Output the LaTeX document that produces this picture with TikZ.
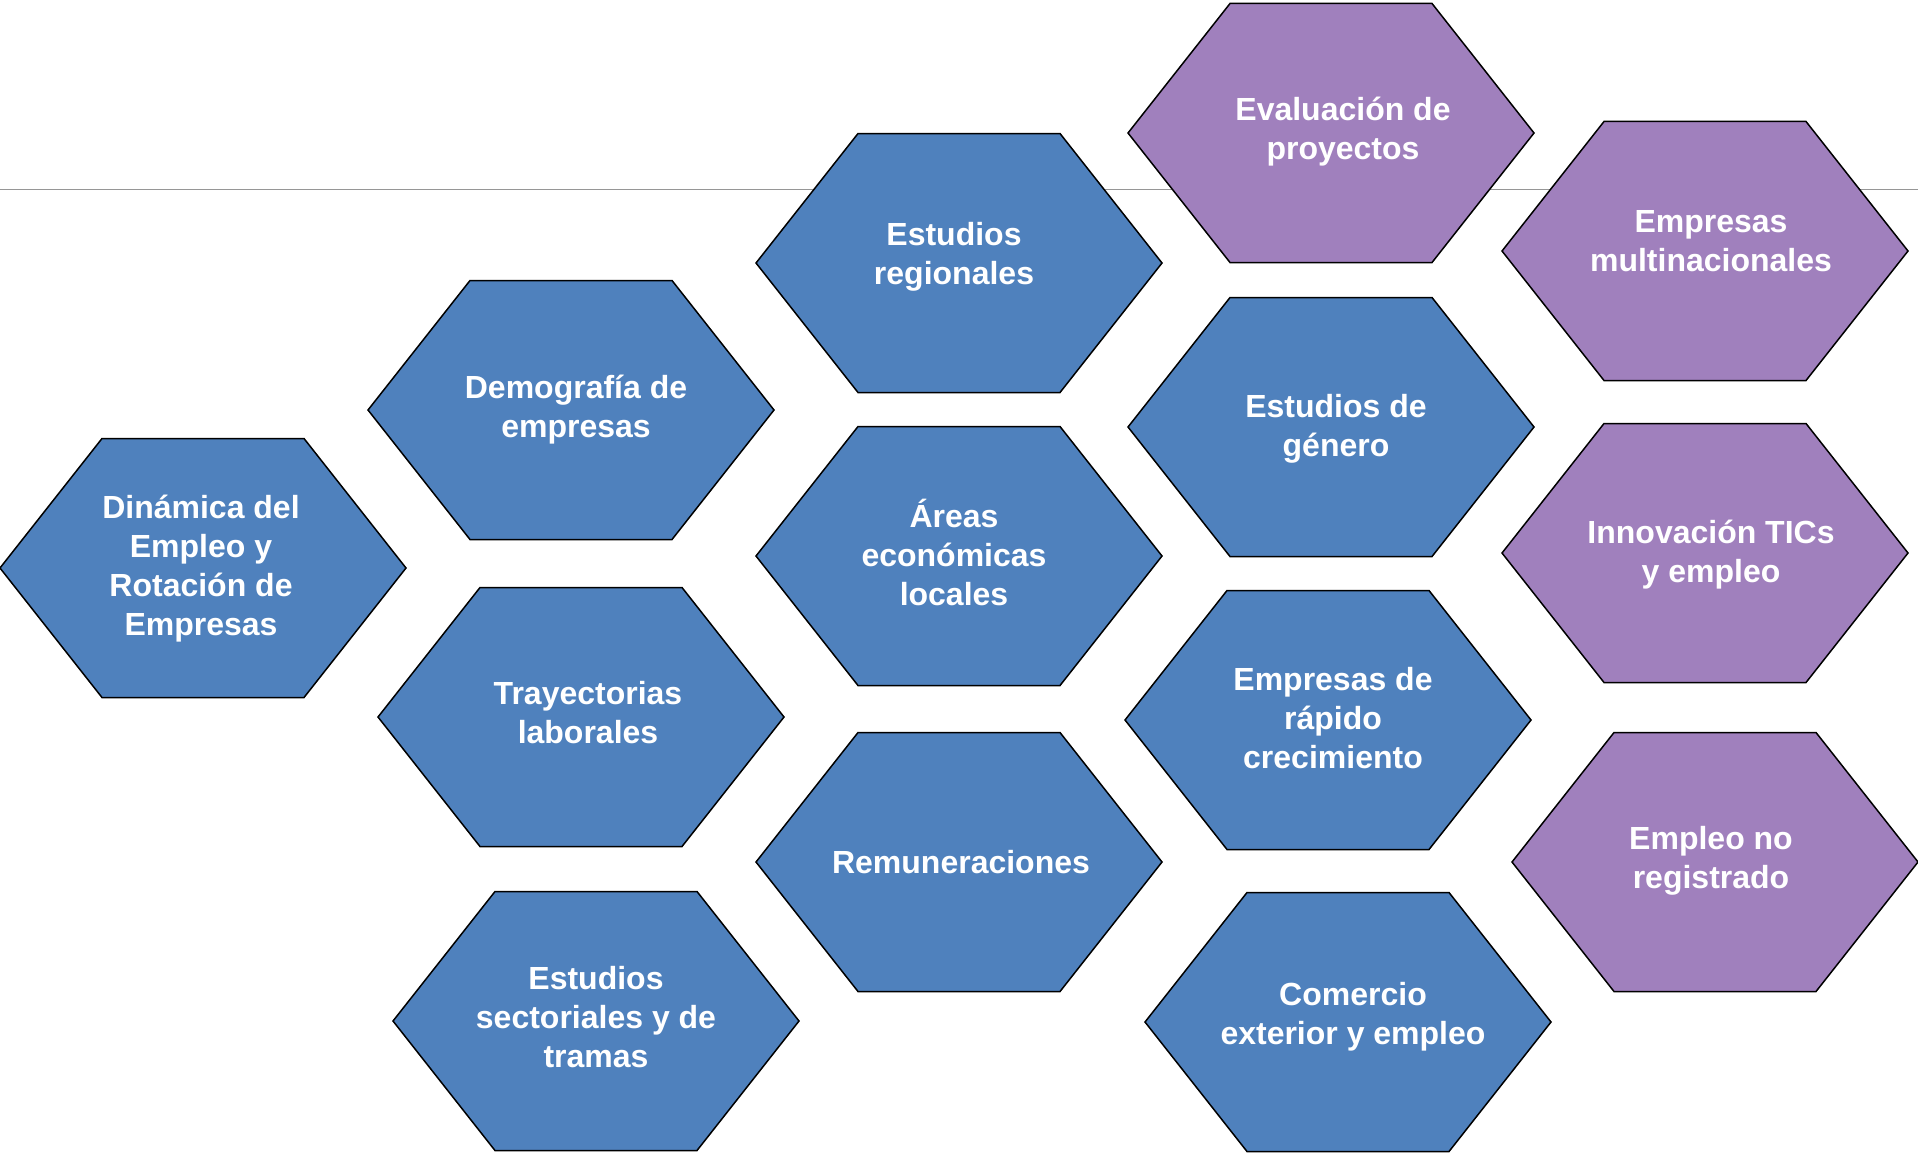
\documentclass[tikz,border=0pt]{standalone}
\usepackage{fontspec}
\setmainfont{Liberation Sans}
\usetikzlibrary{positioning}
\definecolor{azulhex}{RGB}{79,129,189}
\definecolor{moradohex}{RGB}{160,128,189}
\definecolor{lineagris}{RGB}{150,150,150}

\begin{document}
\begin{tikzpicture}[x=1pt, y=-1pt,
    hexagono/.style={draw=black, line width=1.5pt, line join=miter},
    etiqueta/.style={text=white, font=\bfseries\fontsize{32}{39}\selectfont, align=center, inner sep=0pt}]
    \useasboundingbox (0,0) rectangle (1918,1153);

    % Draw horizontal rule behind the hexagons
    \draw[lineagris, line width=1.5pt] (0,189.5) -- (1918,189.5);

    % Hexagons: name/x/y/colour/text shift/text
    \foreach \n/\x/\y/\col/\dx/\dy/\t in {
      dinamica/203/568/azulhex/-2/1/{Dinámica del\\Empleo y\\Rotación de\\Empresas},
      demografia/571/410/azulhex/5/0/{Demografía de\\empresas},
      trayectorias/581/717/azulhex/7/-4/{Trayectorias\\laborales},
      sectoriales/596/1021/azulhex/0/-4/{Estudios\\sectoriales y de\\tramas},
      regionales/959/263/azulhex/-5/-6/{Estudios\\regionales},
      areas/959/556/azulhex/-5/-4/{Áreas\\económicas\\locales},
      remuneraciones/959/862/azulhex/2/0/{Remuneraciones},
      evaluacion/1331/133/moradohex/12/-1/{Evaluación de\\proyectos},
      genero/1331/427/azulhex/5/2/{Estudios de\\género},
      rapido/1328/720/azulhex/5/-2/{Empresas de\\rápido\\crecimiento},
      comercio/1348/1022/azulhex/5/-5/{Comercio\\exterior y empleo},
      multinacionales/1705/251/moradohex/6/-10/{Empresas\\multinacionales},
      innovacion/1705/553/moradohex/6/2/{Innovación TICs\\y empleo},
      noregistrado/1715/862/moradohex/-4/-1/{Empleo no\\registrado}} {
      \draw[hexagono, fill=\col] (\x-203,\y) -- ++(102,-129.5) -- ++(202,0) -- ++(102,129.5)
        -- ++(-102,129.5) -- ++(-202,0) -- cycle;
      \node[etiqueta] (\n) at (\x+\dx,\y+\dy) {\t};
    }
\end{tikzpicture}
\end{document}
